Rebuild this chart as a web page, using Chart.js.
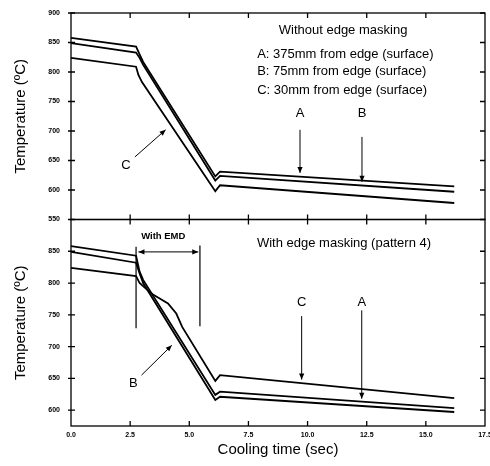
<!DOCTYPE html>
<html>
<head>
<meta charset="utf-8">
<script src="https://cdn.jsdelivr.net/npm/chart.js@4.4.1/dist/chart.umd.min.js"></script>
<style>
  html, body { margin: 0; padding: 0; background: #fff; }
  #wrap { position: relative; width: 490px; height: 466px; }
  canvas { position: absolute; left: 0; top: 0; }
</style>
</head>
<body>
<div id="wrap">
  <canvas id="topChart" width="490" height="466"></canvas>
  <canvas id="bottomChart" width="490" height="466"></canvas>
</div>
<script>
// axis ticks
const timeTicks = [0, 2.5, 5, 7.5, 10, 12.5, 15, 17.5];
const topTempTicks = [550, 600, 650, 700, 750, 800, 850, 900];
const bottomTempTicks = [600, 650, 700, 750, 800, 850];

// without edge masking
const topTimeA = [0, 2.75, 2.9, 3.05, 6.1, 6.3, 16.2];
const topTempA = [858, 843, 830, 817, 623, 631, 606];
const topTimeB = [0, 2.75, 2.9, 3.05, 6.1, 6.3, 16.2];
const topTempB = [849, 833, 824, 812, 616, 624, 597];
const topTimeC = [0, 2.75, 2.85, 3.0, 6.1, 6.3, 16.2];
const topTempC = [824, 809, 795, 783, 598, 608, 578];

// with edge masking (pattern 4)
const botTimeA = [0, 2.75, 2.9, 3.05, 6.1, 6.3, 16.2];
const botTempA = [858, 843, 818, 805, 624, 629, 603];
const botTimeB = [0, 2.75, 2.9, 3.05, 6.1, 6.3, 16.2];
const botTempB = [849, 832, 815, 800, 616, 621, 597];
const botTimeC = [0, 2.75, 2.9, 3.2, 3.5, 4.1, 4.45, 4.7, 6.1, 6.3, 16.2];
const botTempC = [824, 811, 800, 790, 781, 768, 752, 731, 646, 655, 619];

// text and arrows, in data units (sec, degC)
const topNotes = [
  {text: 'Without edge masking', x: 11.5, y: 870, align: 'center'},
  {text: 'A: 375mm from edge (surface)', x: 7.87, y: 830, align: 'left'},
  {text: 'B: 75mm from edge (surface)', x: 7.87, y: 800.5, align: 'left'},
  {text: 'C: 30mm from edge (surface)', x: 7.87, y: 768, align: 'left'},
  {text: 'A', x: 9.68, y: 730, align: 'center'},
  {text: 'B', x: 12.3, y: 730, align: 'center'},
  {text: 'C', x: 2.32, y: 641, align: 'center'}
];
const topArrows = [
  {x1: 9.68, y1: 702, x2: 9.68, y2: 629},
  {x1: 12.3, y1: 690, x2: 12.3, y2: 614},
  {x1: 2.7, y1: 656, x2: 4.0, y2: 702}
];
const bottomNotes = [
  {text: 'With edge masking (pattern 4)', x: 11.54, y: 862, align: 'center'},
  {text: 'C', x: 9.75, y: 770, align: 'center'},
  {text: 'A', x: 12.29, y: 770, align: 'center'},
  {text: 'B', x: 2.63, y: 642, align: 'center'},
  {text: 'With EMD', x: 3.9, y: 874, align: 'center', bold: true}
];
const bottomArrows = [
  {x1: 9.75, y1: 748, x2: 9.75, y2: 648},
  {x1: 12.29, y1: 757, x2: 12.29, y2: 618},
  {x1: 2.98, y1: 655, x2: 4.26, y2: 702},
  {x1: 2.85, y1: 849, x2: 5.38, y2: 849, both: true}
];
const bottomMarkers = [
  {x: 2.75, y1: 857, y2: 729},
  {x: 5.45, y1: 859, y2: 732}
];

const toPoints = (t, v) => t.map((s, i) => ({x: s, y: v[i]}));

function arrowHead(ctx, fx, fy, tx, ty) {
  const ang = Math.atan2(ty - fy, tx - fx);
  const len = 6, half = 2.6;
  ctx.beginPath();
  ctx.moveTo(tx, ty);
  ctx.lineTo(tx - len * Math.cos(ang) + half * Math.sin(ang), ty - len * Math.sin(ang) - half * Math.cos(ang));
  ctx.lineTo(tx - len * Math.cos(ang) - half * Math.sin(ang), ty - len * Math.sin(ang) + half * Math.cos(ang));
  ctx.closePath();
  ctx.fill();
}

const framePlugin = {
  id: 'frame',
  afterDraw(chart, args, opts) {
    const {ctx, chartArea: a, scales: {x, y}} = chart;
    ctx.save();
    ctx.strokeStyle = '#000';
    ctx.fillStyle = '#000';
    ctx.lineWidth = 1.3;
    ctx.strokeRect(a.left, a.top, a.right - a.left, a.bottom - a.top);

    // inward tick marks on all four sides
    ctx.beginPath();
    timeTicks.slice(1, -1).forEach(t => {
      const px = x.getPixelForValue(t);
      ctx.moveTo(px, a.bottom); ctx.lineTo(px, a.bottom - 5);
      ctx.moveTo(px, a.top); ctx.lineTo(px, a.top + 5);
    });
    opts.yTicks.forEach(v => {
      const py = y.getPixelForValue(v);
      ctx.moveTo(a.left - 3, py); ctx.lineTo(a.left + 4, py);
      ctx.moveTo(a.right, py); ctx.lineTo(a.right - 5, py);
    });
    ctx.stroke();

    // vertical markers
    ctx.lineWidth = 1.2;
    ctx.beginPath();
    (opts.markers || []).forEach(m => {
      const px = x.getPixelForValue(m.x);
      ctx.moveTo(px, y.getPixelForValue(m.y1));
      ctx.lineTo(px, y.getPixelForValue(m.y2));
    });
    ctx.stroke();

    // arrows
    (opts.arrows || []).forEach(r => {
      const x1 = x.getPixelForValue(r.x1), y1 = y.getPixelForValue(r.y1);
      const x2 = x.getPixelForValue(r.x2), y2 = y.getPixelForValue(r.y2);
      ctx.lineWidth = 1;
      ctx.beginPath();
      ctx.moveTo(x1, y1); ctx.lineTo(x2, y2);
      ctx.stroke();
      arrowHead(ctx, x1, y1, x2, y2);
      if (r.both) arrowHead(ctx, x2, y2, x1, y1);
    });

    // labels
    ctx.textBaseline = 'middle';
    (opts.notes || []).forEach(n => {
      ctx.font = n.bold ? 'bold 9.5px Arial' : '13px Arial';
      ctx.textAlign = n.align;
      ctx.fillText(n.text, x.getPixelForValue(n.x), y.getPixelForValue(n.y));
    });
    ctx.restore();
  }
};

function lineSet(t, v) {
  return {
    data: toPoints(t, v),
    borderColor: '#000',
    borderWidth: 1.8,
    pointRadius: 0,
    tension: 0,
    fill: false
  };
}

function makePanel(id, sets, yMin, yMax, yTicks, withX, notes, arrows, markers, padding) {
  new Chart(document.getElementById(id), {
    type: 'line',
    data: {datasets: sets},
    options: {
      responsive: false,
      animation: false,
      devicePixelRatio: 1,
      layout: {padding: padding, autoPadding: false},
      plugins: {
        legend: {display: false},
        tooltip: {enabled: false},
        frame: {yTicks: yTicks, notes: notes, arrows: arrows, markers: markers}
      },
      scales: {
        x: {
          type: 'linear',
          display: withX,
          min: 0,
          max: 17.5,
          afterBuildTicks: ax => { ax.ticks = timeTicks.map(v => ({value: v})); },
          afterFit: ax => {
            ax.height = withX ? 40 : 0;
            ax.paddingLeft = 0;
            ax.paddingRight = 0;
          },
          grid: {display: false, drawTicks: false},
          border: {display: false},
          ticks: {
            color: '#000',
            padding: 5,
            maxRotation: 0,
            font: {family: 'Arial', size: 7, weight: 'bold'},
            callback: v => Number(v).toFixed(1)
          },
          title: {
            display: true,
            text: 'Cooling time (sec)',
            color: '#000',
            font: {family: 'Arial', size: 15},
            padding: {bottom: 7}
          }
        },
        y: {
          min: yMin,
          max: yMax,
          afterBuildTicks: ax => { ax.ticks = yTicks.map(v => ({value: v})); },
          afterFit: ax => {
            ax.width = 71;
            ax.paddingTop = 0;
            ax.paddingBottom = 0;
          },
          grid: {display: false, drawTicks: false},
          border: {display: false},
          ticks: {
            color: '#000',
            padding: 11,
            font: {family: 'Arial', size: 7, weight: 'bold'}
          },
          title: {
            display: true,
            text: 'Temperature (\u00BAC)',
            color: '#000',
            font: {family: 'Arial', size: 15},
            padding: {top: 12}
          }
        }
      }
    },
    plugins: [framePlugin]
  });
}

makePanel('topChart',
  [lineSet(topTimeA, topTempA), lineSet(topTimeB, topTempB), lineSet(topTimeC, topTempC)],
  550, 900, topTempTicks, false, topNotes, topArrows, [],
  {top: 13, right: 5, bottom: 246.5, left: 0});

makePanel('bottomChart',
  [lineSet(botTimeA, botTempA), lineSet(botTimeB, botTempB), lineSet(botTimeC, botTempC)],
  575, 900, bottomTempTicks, true, bottomNotes, bottomArrows, bottomMarkers,
  {top: 219.5, right: 5, bottom: 0, left: 0});
</script>
</body>
</html>
